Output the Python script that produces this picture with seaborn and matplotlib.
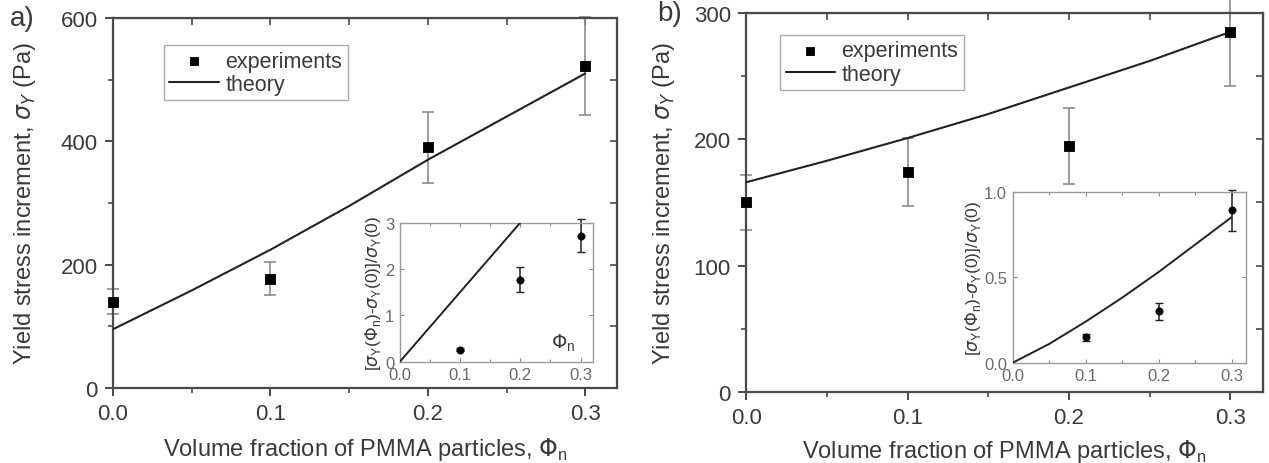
import numpy as np
import pandas as pd
import seaborn as sns
import matplotlib.pyplot as plt

# datos

phi_exp = [0.0, 0.1, 0.2, 0.3]
phi_theo = [0.0, 0.05, 0.1, 0.15, 0.2, 0.25, 0.3]

# panel a)
sigma_a = [140, 177, 390, 522]
err_a = [20, 27, 58, 80]
theo_a = [95, 158, 224, 295, 370, 440, 510]
ins_phi_a = [0.1, 0.2, 0.3]
ins_a = [0.26, 1.77, 2.72]
ins_err_a = [0.03, 0.27, 0.35]
ins_theo_phi_a = [0.0, 0.1, 0.2]
ins_theo_a = [0.0, 1.5, 3.0]

# panel b)
sigma_b = [150, 174, 195, 285]
err_b = [22, 27, 30, 43]
theo_b = [166, 183, 201, 220, 241, 262, 285]
ins_phi_b = [0.1, 0.2, 0.3]
ins_b = [0.15, 0.30, 0.89]
ins_err_b = [0.02, 0.05, 0.12]
ins_theo_b = [0.0, 0.11, 0.24, 0.38, 0.53, 0.69, 0.85]

sns.set_style("ticks")
plt.rcParams["font.family"] = ["Liberation Sans", "DejaVu Sans"]
plt.rcParams["mathtext.fontset"] = "dejavusans"

TXT = "#3a3a3a"
AX = "#4a4a4a"
LIGHT = "#8a8a8a"

fig = plt.figure(figsize=(12.69, 4.64), dpi=100)

ax_a = fig.add_axes([0.089, 0.162, 0.397, 0.797])
ax_b = fig.add_axes([0.588, 0.153, 0.407, 0.817])
in_a = fig.add_axes([0.315, 0.218, 0.152, 0.300])
in_b = fig.add_axes([0.798, 0.216, 0.184, 0.369])


def main_panel(ax, sigma, err, theo, ymax, ystep, letter, xpad, ypad, lx):
    df_e = pd.DataFrame({"phi": phi_exp, "sigma": sigma})
    df_t = pd.DataFrame({"phi": phi_theo, "sigma": theo})
    ax.errorbar(phi_exp, sigma, yerr=err, fmt="none", ecolor="#8c8c8c",
                elinewidth=1.2, capsize=4, capthick=1.2, zorder=2, clip_on=False)
    sns.scatterplot(data=df_e, x="phi", y="sigma", ax=ax, marker="s", s=60,
                    color="black", edgecolor="black", label="experiments",
                    zorder=4, clip_on=False)
    sns.lineplot(data=df_t, x="phi", y="sigma", ax=ax, color="#222222",
                 linewidth=1.5, label="theory", zorder=3)
    ax.set_xlim(0, 0.32)
    ax.set_ylim(0, ymax)
    ax.set_xticks([0.0, 0.1, 0.2, 0.3])
    ax.set_xticklabels(["0.0", "0.1", "0.2", "0.3"])
    ax.set_xticks([0.05, 0.15, 0.25], minor=True)
    ax.set_yticks(np.arange(0, ymax + 1, ystep))
    ax.set_yticks(np.arange(ystep / 2, ymax, ystep), minor=True)
    ax.tick_params(which="major", direction="out", length=6, width=1.4,
                   colors=AX, labelcolor=TXT, labelsize=16, pad=5)
    ax.tick_params(which="minor", direction="out", length=3.5, width=1.2, colors=AX)
    for sp in ax.spines.values():
        sp.set_visible(True)
        sp.set_color(AX)
        sp.set_linewidth(1.6)
    # ticks hacia dentro arriba y a la derecha
    top = ax.secondary_xaxis("top")
    top.set_xticks([0.0, 0.1, 0.2, 0.3])
    top.set_xticks([0.05, 0.15, 0.25], minor=True)
    top.tick_params(which="both", direction="in", length=5, width=1.2,
                    colors=AX, labeltop=False)
    right = ax.secondary_yaxis("right")
    right.set_yticks(np.arange(0, ymax + 1, ystep))
    right.set_yticks(np.arange(ystep / 2, ymax, ystep), minor=True)
    right.tick_params(which="both", direction="in", length=5, width=1.2,
                      colors=AX, labelright=False)
    ax.set_xlabel(r"Volume fraction of PMMA particles, $\Phi_\mathregular{n}$",
                  fontsize=17, color=TXT, labelpad=xpad)
    ax.set_ylabel(r"Yield stress increment, $\sigma_Y$ (Pa)",
                  fontsize=17, color=TXT, labelpad=ypad)
    ax.legend(loc="upper left", bbox_to_anchor=(0.08, 0.955), fontsize=15.5,
              frameon=True, fancybox=False, edgecolor="#999999",
              labelcolor=TXT, handlelength=2.3, borderpad=0.25,
              labelspacing=0.1, handletextpad=0.3, markerscale=0.8)
    ax.text(lx, 1.0, letter, transform=ax.transAxes, fontsize=20,
            color=TXT, va="center", ha="left")


def inset_panel(ax, px, py, pe, tx, ty, ymax, yticks, ylabels):
    ax.errorbar(px, py, yerr=pe, fmt="none", ecolor="#222222",
                elinewidth=1.1, capsize=3, capthick=1.0, zorder=2, clip_on=False)
    sns.scatterplot(x=px, y=py, ax=ax, marker="o", s=28, color="black",
                    edgecolor="black", zorder=4, clip_on=False)
    sns.lineplot(x=tx, y=ty, ax=ax, color="#222222", linewidth=1.4, zorder=3)
    ax.set_xticks([0.0, 0.1, 0.2, 0.3])
    ax.set_xticklabels(["0.0", "0.1", "0.2", "0.3"])
    ax.set_xticks([0.05, 0.15, 0.25], minor=True)
    ax.set_yticks(yticks)
    ax.set_yticklabels(ylabels)
    ax.set_xlim(0, 0.32)
    ax.set_ylim(0, ymax)
    ax.tick_params(which="major", direction="in", length=3, width=0.8,
                   colors=LIGHT, labelcolor="#6a6a6a", labelsize=12, pad=4,
                   top=True, right=True)
    ax.tick_params(which="minor", direction="in", length=2, width=0.8,
                   colors=LIGHT, top=True, right=True)
    for sp in ax.spines.values():
        sp.set_visible(True)
        sp.set_color("#9a9a9a")
        sp.set_linewidth(1.0)
    ax.set_xlabel("")
    ax.set_ylabel(r"[$\sigma_\mathregular{Y}$($\Phi_\mathregular{n}$)-$\sigma_\mathregular{Y}$(0)]/$\sigma_\mathregular{Y}$(0)",
                  fontsize=12.5, color=TXT, labelpad=1)


main_panel(ax_a, sigma_a, err_a, theo_a, 600, 200, "a)", 8, 16, -0.205)
main_panel(ax_b, sigma_b, err_b, theo_b, 300, 100, "b)", 6, 12, -0.172)
ax_b.legend_.set_bbox_to_anchor((0.045, 0.97))

inset_panel(in_a, ins_phi_a, ins_a, ins_err_a, ins_theo_phi_a, ins_theo_a,
            3, [0, 1, 2, 3], ["0", "1", "2", "3"])
in_a.text(0.91, 0.14, r"$\Phi_\mathregular{n}$", transform=in_a.transAxes,
          fontsize=14, color=TXT, ha="right", va="center")
inset_panel(in_b, ins_phi_b, ins_b, ins_err_b, phi_theo, ins_theo_b,
            1.0, [0.0, 0.5, 1.0], ["0.0", "0.5", "1.0"])

fig.savefig("out.png", dpi=100)
